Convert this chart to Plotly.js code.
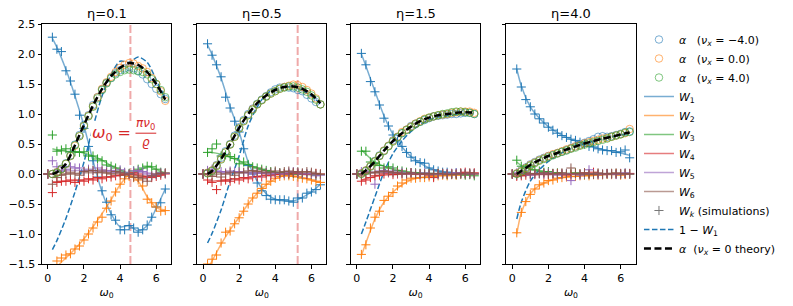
<!DOCTYPE html>
<html><head><meta charset="utf-8">
<script src="https://cdn.plot.ly/plotly-3.0.1.min.js"></script>
<style>html,body{margin:0;padding:0;background:#fff}</style>
</head><body>
<div id="chart" style="width:793px;height:306px"></div>
<script>
// ---------------- data ----------------
const panelTitles = ['η=0.1', 'η=0.5', 'η=1.5', 'η=4.0'];
const resonanceX = [4.57, 5.24, null, null];   // ω0 = πν0/ϱ (panels 1,2)

const theoryX = [0.25,0.5,1,1.5,2,2.5,3,3.5,4,4.5,5,5.5,6,6.5];
const simX = [0,0.25,0.5,0.75,1,1.25,1.5,1.75,2,2.25,2.5,2.75,3,3.25,3.5,3.75,4,4.25,4.5,4.75,5,5.25,5.5,5.75,6,6.25,6.5];
const alphaX = [0.25,0.5,0.75,1,1.25,1.5,1.75,2,2.25,2.5,2.75,3,3.25,3.5,3.75,4,4.25,4.5,4.75,5,5.25,5.5,5.75,6,6.25,6.5];

// theory W_k (one row per panel)
const w1Theory = [
  [2.26,2.11,1.74,1.3,0.8,0.22,-0.3,-0.66,-0.88,-0.86,-0.95,-0.86,-0.57,-0.25],
  [2.15,1.99,1.6,1.12,0.7,0.2,-0.12,-0.33,-0.42,-0.45,-0.45,-0.39,-0.3,-0.17],
  [2.0,1.8,1.38,0.97,0.66,0.45,0.29,0.18,0.1,0.05,0.03,0.01,0.0,0.0],
  [1.75,1.47,1.12,0.93,0.79,0.69,0.61,0.55,0.5,0.45,0.41,0.38,0.35,0.31]];
const w2Theory = [
  [-1.75,-1.55,-1.4,-1.25,-1.08,-0.88,-0.66,-0.43,-0.18,-0.02,-0.12,-0.38,-0.56,-0.6],
  [-1.58,-1.45,-1.17,-0.93,-0.72,-0.5,-0.32,-0.18,-0.08,-0.03,-0.03,-0.06,-0.1,-0.14],
  [-1.36,-1.15,-0.75,-0.47,-0.3,-0.18,-0.1,-0.06,-0.04,-0.03,-0.02,-0.01,-0.01,0.0],
  [-1.0,-0.65,-0.33,-0.19,-0.12,-0.08,-0.05,-0.04,-0.03,-0.02,-0.01,-0.01,0.0,0.0]];
const w3Theory = [
  [0.42,0.4,0.38,0.37,0.35,0.3,0.23,0.14,0.07,0.01,0.05,0.12,0.08,0.0],
  [0.36,0.36,0.33,0.28,0.22,0.15,0.1,0.06,0.03,0.01,0.0,0.0,-0.01,-0.01],
  [0.4,0.33,0.2,0.13,0.08,0.05,0.03,0.02,0.01,0.0,0.0,0.0,0.0,0.0],
  [0.2,0.14,0.08,0.05,0.03,0.02,0.01,0.01,0.0,0.0,0.0,0.0,0.0,0.0]];
const w4Theory = [
  [-0.13,-0.13,-0.12,-0.11,-0.1,-0.08,-0.06,-0.04,-0.02,0.0,-0.02,-0.04,-0.03,0.0],
  [-0.12,-0.12,-0.11,-0.09,-0.08,-0.06,-0.04,-0.02,-0.01,0.0,0.0,0.0,0.0,0.0],
  [-0.1,-0.08,-0.04,-0.02,-0.01,0.0,0.0,0.0,0.0,0.0,0.0,0.0,0.0,0.0],
  [-0.05,-0.03,-0.02,-0.01,-0.01,0.0,0.0,0.0,0.0,0.0,0.0,0.0,0.0,0.0]];
const w5Theory = [
  [0.06,0.06,0.06,0.06,0.06,0.05,0.05,0.04,0.03,0.0,0.03,0.02,0.0,0.0],
  [0.05,0.05,0.04,0.03,0.03,0.02,0.02,0.01,0.01,0.01,0.01,0.0,0.0,-0.01],
  [0.04,0.04,0.03,0.02,0.02,0.01,0.01,0.0,0.0,0.0,0.0,0.0,0.0,0.0],
  [0.01,0.01,0.0,0.0,0.0,0.0,0.0,0.0,0.0,0.0,0.0,0.0,0.0,0.0]];
const w6Theory = [
  [-0.05,-0.03,0.0,0.01,0.02,0.02,0.02,0.01,0.0,0.0,-0.03,-0.04,-0.01,0.01],
  [-0.03,-0.02,0.0,0.01,0.02,0.02,0.02,0.02,0.02,0.02,0.02,0.01,0.01,0.0],
  [0.0,0.01,0.02,0.02,0.01,0.01,0.0,0.0,0.0,0.0,0.0,0.0,0.0,0.0],
  [0.0,0.0,0.0,0.0,0.0,0.0,0.0,0.0,0.0,0.0,0.0,0.0,0.0,0.0]];

// simulations W_k
const w1Sim = [
  [0,2.28,2.08,2.04,1.72,1.55,1.33,0.98,0.76,0.46,0.22,-0.05,-0.28,-0.47,-0.68,-0.77,-0.93,-0.93,-0.86,-0.9,-0.97,-0.93,-0.85,-0.72,-0.55,-0.48,-0.25],
  [0,2.17,1.98,1.82,1.62,1.28,1.1,0.88,0.7,0.42,0.14,0.0,-0.15,-0.28,-0.36,-0.42,-0.43,-0.43,-0.43,-0.45,-0.47,-0.4,-0.4,-0.32,-0.3,-0.26,-0.18],
  [0,2.01,1.82,1.54,1.37,1.15,0.93,0.8,0.65,0.55,0.46,0.36,0.28,0.22,0.19,0.18,0.1,0.07,0.05,0.03,0.03,0.01,0.02,0.0,0.01,0.0,0.01],
  [0,1.75,1.45,1.24,1.12,1.0,0.92,0.85,0.78,0.73,0.68,0.64,0.61,0.58,0.56,0.53,0.5,0.46,0.45,0.42,0.4,0.39,0.39,0.36,0.37,0.4,0.27]];
const w2Sim = [
  [0,-1.65,-1.45,-1.4,-1.35,-1.33,-1.25,-1.2,-1.1,-1.0,-0.9,-0.8,-0.72,-0.57,-0.45,-0.3,-0.17,-0.08,-0.04,-0.06,-0.1,-0.2,-0.42,-0.48,-0.55,-0.62,-0.61],
  [0,-1.5,-1.42,-1.35,-1.15,-0.97,-0.95,-0.83,-0.73,-0.62,-0.5,-0.4,-0.32,-0.24,-0.17,-0.12,-0.07,-0.04,-0.03,-0.03,-0.04,-0.05,-0.07,-0.08,-0.1,-0.12,-0.14],
  [0,-1.34,-1.18,-0.9,-0.72,-0.62,-0.44,-0.37,-0.31,-0.2,-0.15,-0.1,-0.07,-0.07,-0.06,-0.06,-0.05,-0.04,-0.03,-0.02,-0.03,-0.01,-0.02,-0.01,0.0,-0.01,0.0],
  [0,-0.98,-0.64,-0.46,-0.34,-0.25,-0.18,-0.15,-0.11,-0.1,-0.07,-0.06,-0.05,-0.04,-0.04,-0.03,-0.02,-0.03,-0.01,-0.02,-0.01,0.0,-0.01,0.0,-0.02,-0.01,0.0]];
const w3Sim = [
  [0,0.65,0.38,0.4,0.42,0.37,0.37,0.36,0.37,0.3,0.3,0.25,0.22,0.15,0.13,0.1,0.05,0.02,0.01,0.05,0.08,0.1,0.13,0.12,0.08,0.03,0.01],
  [0,0.36,0.42,0.5,0.3,0.32,0.29,0.26,0.17,0.2,0.16,0.12,0.1,0.08,0.06,0.04,0.03,0.02,0.01,0.0,0.01,0.0,-0.01,0.0,-0.01,-0.02,-0.01],
  [0,0.38,0.38,0.2,0.18,0.14,0.1,0.12,0.1,0.06,0.05,0.03,0.02,0.02,0.01,0.0,0.01,-0.01,0.0,0.0,-0.01,0.0,-0.01,0.0,-0.02,-0.01,-0.03],
  [0,0.23,0.13,0.1,0.12,0.07,0.05,0.03,0.04,0.01,0.02,0.0,0.01,0.0,0.02,0.0,-0.01,0.0,0.01,0.0,-0.01,0.0,0.01,0.0,0.0,0.01,0.0]];
const w4Sim = [
  [0,-0.31,-0.14,-0.12,-0.12,-0.1,-0.14,-0.1,-0.12,-0.08,-0.1,-0.06,-0.08,-0.05,-0.05,-0.03,-0.02,0.0,-0.01,0.02,0.0,-0.05,-0.05,-0.06,-0.04,-0.02,0.0],
  [0,-0.1,-0.14,-0.26,-0.12,-0.1,-0.12,-0.08,-0.1,-0.06,-0.08,-0.05,-0.04,-0.05,-0.02,-0.03,-0.01,0.0,0.01,0.0,0.02,0.01,0.0,-0.01,0.0,0.01,0.0],
  [0,-0.12,-0.1,-0.06,-0.03,-0.02,0.0,0.02,-0.01,0.0,0.01,0.0,0.02,0.0,-0.01,0.0,-0.02,-0.06,0.0,0.01,0.0,0.01,0.0,0.02,0.03,0.01,0.02],
  [0,-0.04,-0.03,-0.02,0.0,-0.01,0.01,0.0,-0.01,0.0,0.01,0.0,-0.02,0.0,0.01,0.0,0.02,0.0,0.03,0.0,-0.01,0.0,0.01,0.0,0.01,0.0,0.01]];
const w5Sim = [
  [0,0.22,0.12,0.05,0.08,0.12,0.1,0.1,0.05,0.08,0.06,0.1,0.07,0.05,0.06,0.03,0.07,0.03,0.0,0.05,0.06,0.04,0.0,-0.03,-0.01,0.02,0.01],
  [0,0.06,0.08,0.05,0.04,0.02,0.05,0.03,0.04,0.02,0.03,0.0,0.02,0.01,0.03,0.0,0.02,0.01,0.0,0.03,0.04,0.02,0.0,0.01,0.0,-0.03,-0.02],
  [0,0.04,0.05,0.02,-0.17,0.05,0.06,0.03,0.05,0.02,0.03,0.0,0.02,0.01,0.0,0.02,0.0,0.01,-0.01,0.0,0.01,0.0,0.02,0.0,0.01,0.0,0.0],
  [0,0.02,0.0,0.03,-0.02,0.0,0.01,0.0,0.02,0.0,-0.02,0.0,0.01,-0.11,0.0,-0.02,0.0,0.07,0.0,-0.01,0.0,0.01,0.0,-0.01,0.0,0.02,0.0]];
const w6Sim = [
  [0,-0.17,-0.06,-0.02,0.0,0.03,0.0,-0.02,0.04,0.05,0.06,0.03,0.05,0.02,0.0,0.04,0.02,-0.02,0.0,-0.05,-0.06,-0.08,-0.12,-0.03,0.0,0.01,0.02],
  [0,0.0,-0.04,0.02,-0.05,0.0,0.03,-0.02,0.02,0.03,0.05,0.06,0.04,0.05,0.02,0.03,0.05,0.02,0.04,0.05,0.03,0.04,0.02,0.04,0.03,0.01,0.0],
  [0,-0.02,0.0,0.03,0.02,0.04,0.05,0.04,0.02,0.03,0.0,0.01,0.02,0.0,0.01,0.0,0.01,0.0,0.01,0.0,0.0,-0.01,0.0,0.01,0.0,0.02,0.0],
  [0,-0.02,0.0,0.02,0.0,0.01,0.0,0.02,0.0,0.01,0.0,0.02,0.0,0.1,0.01,0.0,0.02,0.0,-0.01,0.02,0.0,0.01,0.0,0.02,0.0,0.01,0.0]];

// alpha (simulated, three nu_x values)
const alphaNuNeg4 = [
  [0.0,0.03,0.09,0.18,0.31,0.49,0.65,0.82,0.98,1.15,1.28,1.41,1.52,1.6,1.68,1.73,1.76,1.78,1.76,1.72,1.66,1.58,1.5,1.42,1.33,1.25],
  [0.02,0.06,0.15,0.27,0.38,0.5,0.64,0.78,0.9,1.0,1.09,1.17,1.24,1.3,1.36,1.41,1.44,1.45,1.44,1.43,1.4,1.38,1.32,1.26,1.2,1.16],
  [0.01,0.06,0.13,0.22,0.31,0.39,0.47,0.56,0.62,0.68,0.74,0.8,0.84,0.87,0.9,0.93,0.96,0.97,0.98,0.99,1.0,1.0,1.01,1.02,1.02,1.0],
  [0.01,0.06,0.11,0.16,0.2,0.24,0.27,0.3,0.32,0.35,0.37,0.4,0.43,0.46,0.49,0.52,0.55,0.58,0.62,0.63,0.62,0.63,0.65,0.67,0.7,0.71]];
const alphaNu0 = [
  [0.0,0.03,0.08,0.17,0.3,0.47,0.63,0.8,0.97,1.13,1.28,1.42,1.53,1.62,1.7,1.77,1.82,1.85,1.84,1.8,1.76,1.7,1.6,1.5,1.38,1.22],
  [0.02,0.06,0.14,0.25,0.36,0.49,0.62,0.76,0.88,0.98,1.08,1.16,1.23,1.29,1.34,1.38,1.42,1.45,1.47,1.49,1.48,1.45,1.4,1.34,1.26,1.16],
  [0.01,0.06,0.13,0.21,0.3,0.39,0.47,0.55,0.62,0.7,0.74,0.79,0.84,0.88,0.92,0.94,0.96,0.98,0.99,1.0,1.02,1.03,1.04,1.04,1.04,1.02],
  [0.01,0.05,0.1,0.15,0.19,0.23,0.26,0.3,0.33,0.35,0.38,0.41,0.43,0.46,0.48,0.51,0.53,0.55,0.57,0.59,0.6,0.62,0.64,0.66,0.68,0.75]];
const alphaNuPos4 = [
  [0.0,0.02,0.08,0.17,0.3,0.48,0.63,0.8,0.96,1.12,1.26,1.4,1.51,1.6,1.66,1.7,1.73,1.74,1.73,1.71,1.7,1.66,1.58,1.5,1.4,1.28],
  [0.01,0.05,0.13,0.24,0.36,0.49,0.62,0.76,0.88,0.98,1.07,1.16,1.23,1.29,1.34,1.38,1.42,1.44,1.46,1.46,1.44,1.41,1.37,1.31,1.24,1.16],
  [0.0,0.05,0.12,0.21,0.3,0.38,0.46,0.54,0.61,0.68,0.73,0.78,0.83,0.87,0.91,0.94,0.96,0.98,1.0,1.01,1.03,1.04,1.04,1.03,1.02,1.0],
  [0.0,0.04,0.09,0.14,0.18,0.22,0.25,0.28,0.31,0.34,0.37,0.39,0.42,0.44,0.47,0.49,0.51,0.53,0.55,0.57,0.59,0.62,0.64,0.66,0.69,0.7]];
// alpha theory (nu_x = 0)
const alphaTheory = [
  [0.0,0.03,0.17,0.48,0.82,1.14,1.42,1.63,1.77,1.85,1.82,1.7,1.5,1.24],
  [0.0,0.05,0.25,0.5,0.77,1.0,1.18,1.31,1.4,1.45,1.46,1.42,1.33,1.18],
  [0.0,0.06,0.21,0.39,0.55,0.68,0.79,0.88,0.94,0.98,1.0,1.02,1.03,1.02],
  [0.0,0.05,0.15,0.23,0.3,0.35,0.41,0.46,0.51,0.55,0.59,0.62,0.66,0.69]];

// ---------------- styling / assembly ----------------
const wTheory = [w1Theory, w2Theory, w3Theory, w4Theory, w5Theory, w6Theory];
const wSim = [w1Sim, w2Sim, w3Sim, w4Sim, w5Sim, w6Sim];
const COLORS = ['#1f77b4','#ff7f0e','#2ca02c','#d62728','#9467bd','#8c564b'];
function rgba(hex, a) {
  const n = parseInt(hex.slice(1), 16);
  return `rgba(${(n>>16)&255},${(n>>8)&255},${n&255},${a})`;
}
const FONT = 'DejaVu Sans, Liberation Sans, sans-serif';
const NB = '\u00a0';
const alphaSets = [
  {y: alphaNuNeg4, c: COLORS[0], name: `<i>α</i>${NB}${NB}${NB}(<i>ν<sub>x</sub></i>${NB}=${NB}−4.0)`},
  {y: alphaNu0,    c: COLORS[1], name: `<i>α</i>${NB}${NB}${NB}(<i>ν<sub>x</sub></i>${NB}=${NB}0.0)`},
  {y: alphaNuPos4, c: COLORS[2], name: `<i>α</i>${NB}${NB}${NB}(<i>ν<sub>x</sub></i>${NB}=${NB}4.0)`}
];

const domains = [[0, 0.2174], [0.2612, 0.4786], [0.5202, 0.7376], [0.7818, 0.9992]];
const data = [];
for (let p = 0; p < 4; p++) {
  const xa = p === 0 ? 'x' : 'x' + (p + 1);
  const ya = p === 0 ? 'y' : 'y' + (p + 1);
  for (let k = 0; k < 6; k++) {
    data.push({x: theoryX, y: wTheory[k][p], xaxis: xa, yaxis: ya, type: 'scatter', mode: 'lines',
      line: {color: rgba(COLORS[k], 0.6), width: 1.5, shape: 'spline', smoothing: 0.8},
      name: `<i>W</i><sub>${k+1}</sub>`, legendrank: 4 + k, showlegend: p === 0, hoverinfo: 'skip'});
  }
  data.push({x: theoryX, y: w1Theory[p].map(v => 1 - v), xaxis: xa, yaxis: ya, type: 'scatter', mode: 'lines',
    line: {color: COLORS[0], width: 1.5, dash: '5.5px,2.5px', shape: 'spline', smoothing: 0.8},
    name: `1${NB}−${NB}<i>W</i><sub>1</sub>`, legendrank: 11, showlegend: p === 0});
  for (let k = 0; k < 6; k++) {
    data.push({x: simX, y: wSim[k][p], xaxis: xa, yaxis: ya, type: 'scatter', mode: 'markers',
      marker: {symbol: 'cross-thin-open', size: 6.5, color: COLORS[k], line: {color: COLORS[k], width: 1}},
      showlegend: false});
  }
  alphaSets.forEach((s, i) => {
    data.push({x: alphaX, y: s.y[p], xaxis: xa, yaxis: ya, type: 'scatter', mode: 'markers',
      marker: {symbol: 'circle-open', size: 7.5, color: rgba(s.c, 0.6), line: {color: rgba(s.c, 0.6), width: 1}},
      name: s.name, legendrank: 1 + i, showlegend: p === 0});
  });
  data.push({x: theoryX, y: alphaTheory[p], xaxis: xa, yaxis: ya, type: 'scatter', mode: 'lines',
    line: {color: '#000', width: 2.5, dash: '7px,3.5px', shape: 'spline', smoothing: 0.8},
    name: `<i>α</i>${NB}${NB}(<i>ν<sub>x</sub></i>${NB}=${NB}0 theory)`, legendrank: 12, showlegend: p === 0});
}
// legend-only entry for simulations
data.push({x: [null], y: [null], type: 'scatter', mode: 'markers',
  marker: {symbol: 'cross-thin-open', size: 6.5, color: '#777', line: {color: '#777', width: 1}},
  name: `<i>W<sub>k</sub></i>${NB}(simulations)`, legendrank: 10, showlegend: true});

const layout = {
  width: 793, height: 306,
  margin: {l: 42, r: 146, t: 24, b: 42},
  paper_bgcolor: '#fff', plot_bgcolor: '#fff',
  font: {family: FONT, size: 11, color: '#000'},
  showlegend: true,
  legend: {x: 1.005, xanchor: 'left', y: 0.5, yanchor: 'middle', bgcolor: 'rgba(0,0,0,0)',
    borderwidth: 0, font: {family: FONT, size: 11}, itemwidth: 30, traceorder: 'normal'},
  annotations: [], shapes: []
};
for (let p = 0; p < 4; p++) {
  const sx = p === 0 ? '' : String(p + 1);
  layout['xaxis' + sx] = {domain: domains[p], anchor: 'y' + sx, range: [-0.325, 6.825],
    tickvals: [0, 2, 4, 6], ticks: 'outside', ticklen: 3.5, tickwidth: 1, tickcolor: '#000',
    showline: true, linecolor: '#000', linewidth: 1, mirror: true, showgrid: false, zeroline: false,
    tickfont: {size: 11}, title: {text: '<i>ω</i><sub>0</sub>', font: {size: 11}, standoff: 4}};
  layout['yaxis' + sx] = {domain: [0, 1], anchor: 'x' + sx, range: [-1.5, 2.5],
    tick0: -1.5, dtick: 0.5, tickformat: '.1f', ticks: 'outside', ticklen: 3.5, tickwidth: 1, tickcolor: '#000',
    showline: true, linecolor: '#000', linewidth: 1, mirror: true, showgrid: false, zeroline: false,
    showticklabels: p === 0, tickfont: {size: 11}};
  layout.annotations.push({text: panelTitles[p], xref: 'x' + sx + ' domain', yref: 'y' + sx + ' domain',
    x: 0.5, y: 1, xanchor: 'center', yanchor: 'bottom', yshift: 1, showarrow: false, font: {size: 13}});
  if (resonanceX[p] !== null) {
    layout.shapes.push({type: 'line', xref: 'x' + sx, yref: 'y' + sx + ' domain', x0: resonanceX[p], x1: resonanceX[p],
      y0: 0, y1: 1, line: {color: rgba('#d62728', 0.4), width: 2, dash: '8px,3px'}, layer: 'below'});
  }
}
// resonance formula annotation in panel 1:  ω0 = πν0 / ϱ
const RED = '#d62728';
layout.annotations.push({text: '<i>ω</i><sub>0</sub>' + NB + '=', xref: 'x', yref: 'y', x: 4.7, y: 0.68,
  xanchor: 'right', yanchor: 'middle', showarrow: false, bgcolor: '#fff', borderpad: 1,
  font: {size: 16, color: RED}});
layout.annotations.push({text: '<i>πν</i><sub>0</sub>', xref: 'x', yref: 'y', x: 5.42, y: 0.69,
  xanchor: 'center', yanchor: 'bottom', showarrow: false, borderpad: 0, font: {size: 12, color: RED}});
layout.annotations.push({text: '<i>ϱ</i>', xref: 'x', yref: 'y', x: 5.42, y: 0.67,
  xanchor: 'center', yanchor: 'top', showarrow: false, borderpad: 0, font: {size: 12, color: RED}});
layout.shapes.push({type: 'line', xref: 'x', yref: 'y', x0: 4.85, x1: 6.0, y0: 0.68, y1: 0.68,
  line: {color: RED, width: 1}});

Plotly.newPlot('chart', data, layout, {staticPlot: true, displayModeBar: false});
</script>
</body></html>
